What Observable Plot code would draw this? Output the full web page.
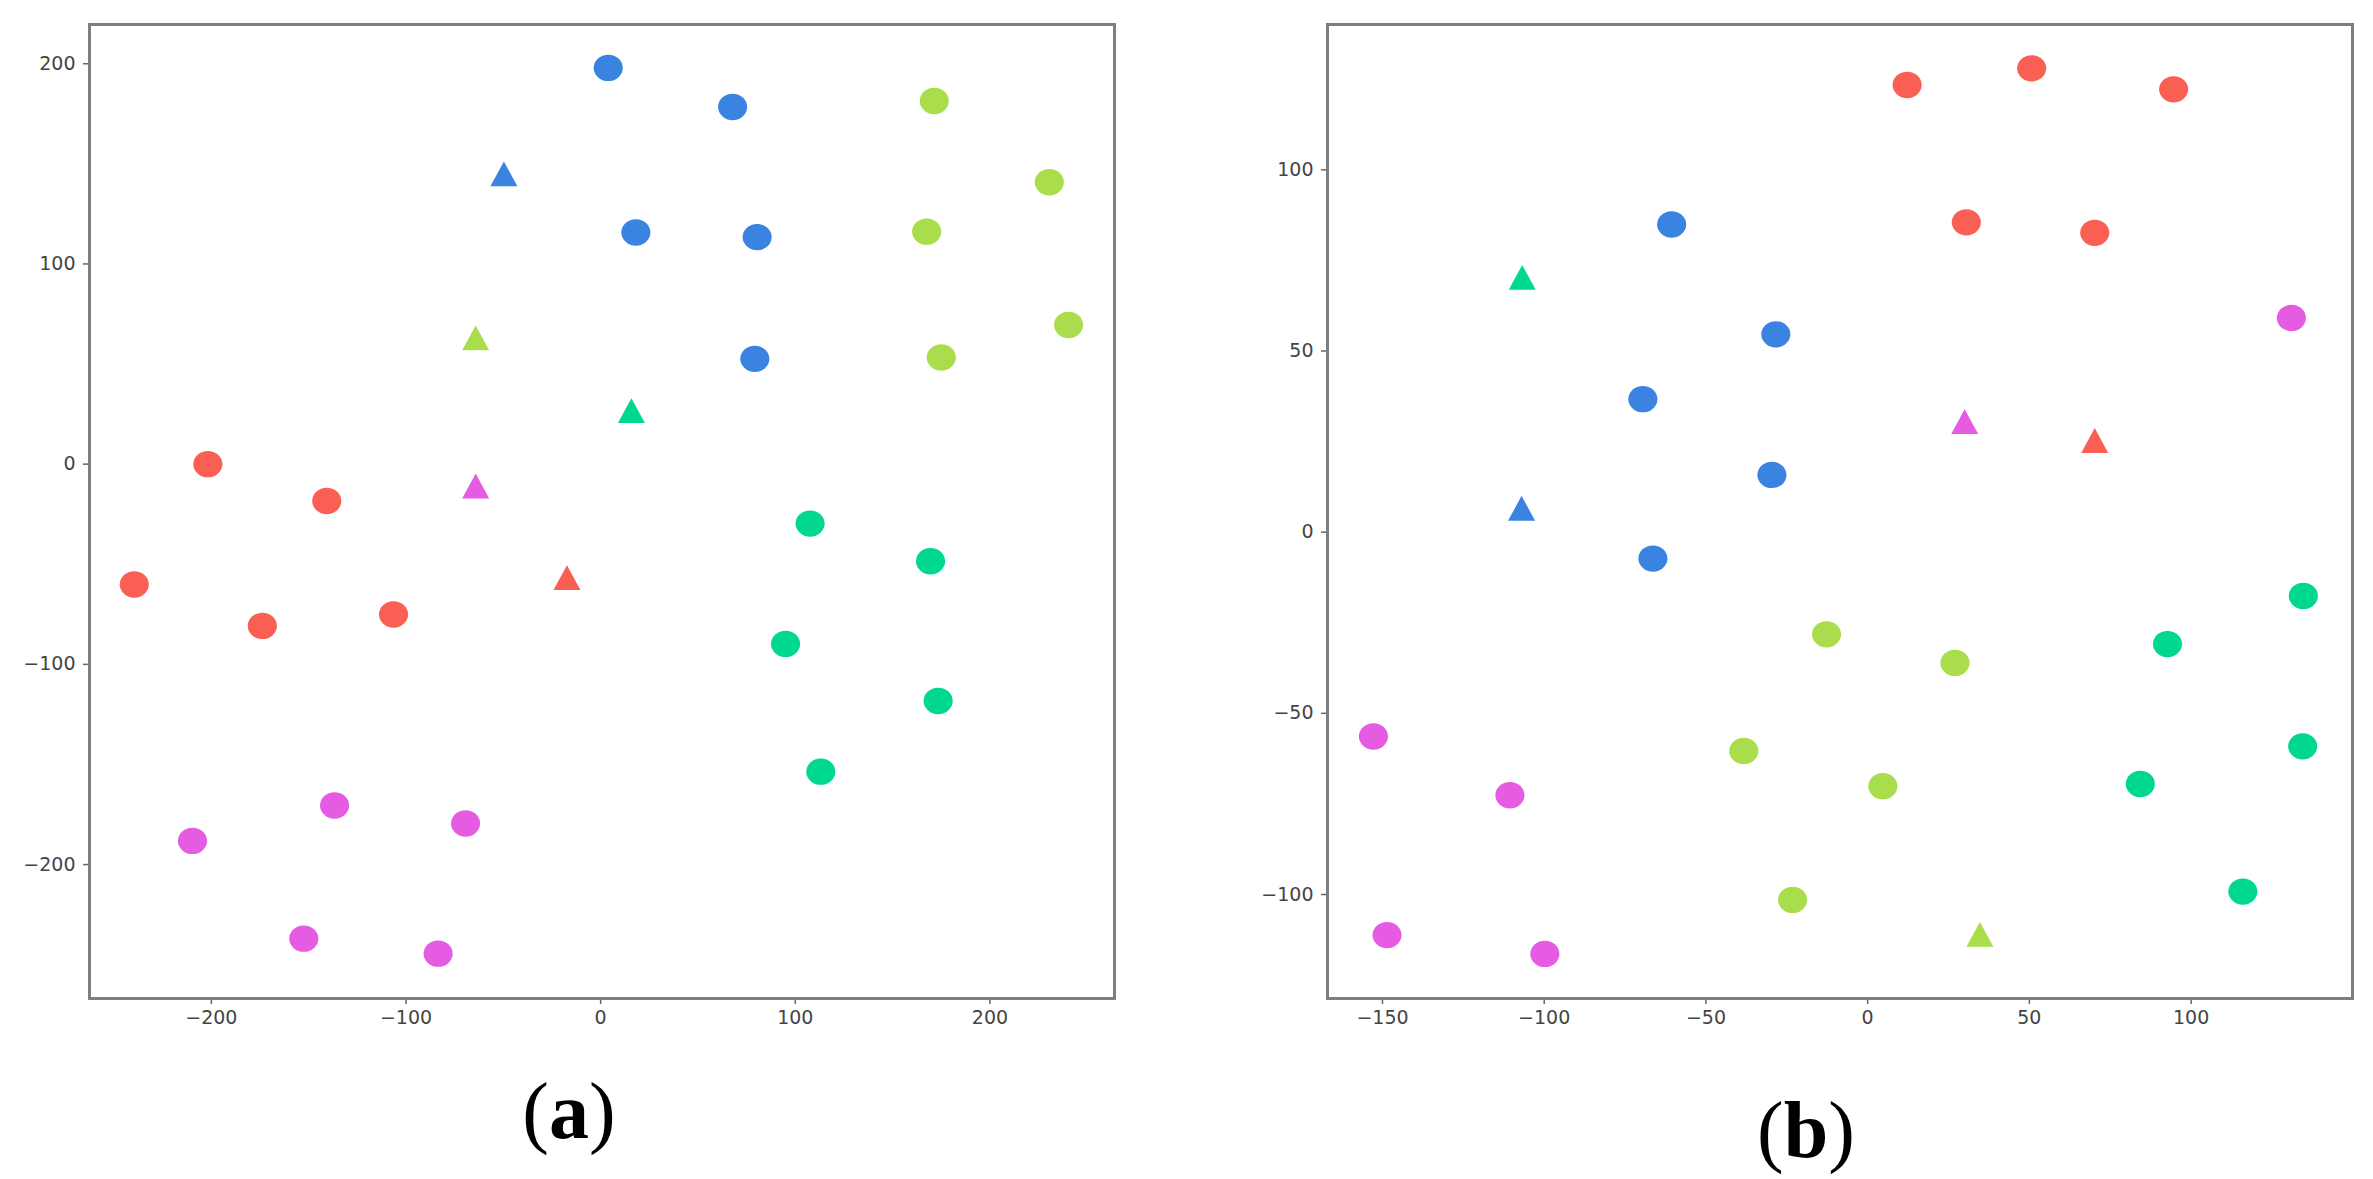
<!DOCTYPE html>
<html>
<head>
<meta charset="utf-8">
<script src="https://cdn.jsdelivr.net/npm/d3@7"></script>
<script src="https://cdn.jsdelivr.net/npm/@observablehq/plot@0.6"></script>
<style>
  html, body { margin: 0; padding: 0; background: #fff; }
  #page { position: relative; width: 2373px; height: 1179px; overflow: hidden; }
  .panel { position: absolute; top: 0; }
  .lab { position: absolute; font-family: "Liberation Serif", "DejaVu Serif", serif; font-size: 80px; line-height: 80px; color: #000; transform: translateX(-50%); white-space: nowrap; }
  .lab b { font-weight: bold; }
</style>
</head>
<body>
<div id="page">
  <div id="pa" class="panel" style="left:0px"></div>
  <div id="pb" class="panel" style="left:1240px"></div>
  <div class="lab" style="left:569px; top:1071px">(<b>a</b>)</div>
  <div class="lab" style="left:1806px; top:1090px">(<b>b</b>)</div>
</div>
<script>
// ---------- categories ----------
const classes = ["c1", "c2", "c3", "c4", "c5"];
const classColors = ["#3a83e0", "#aadd4b", "#00d88e", "#f95f52", "#e55be2"];

// ---------- panel (a) ----------
const aX = [3.9, 67.8, 18.1, 80.4, 79.2, -49.7,
            171.4, 230.5, 167.5, 240.4, 175.0, -64.2,
            107.6, 169.5, 95.0, 173.4, 113.1, 15.8,
            -201.8, -140.7, -239.6, -173.8, -106.4, -17.3,
            -136.7, -209.7, -69.4, -152.5, -83.5, -64.2];
const aY = [197.9, 178.4, 115.7, 113.4, 52.6, 145.0,
            181.4, 140.8, 116.1, 69.5, 53.3, 63.1,
            -29.7, -48.5, -89.8, -118.3, -153.6, 26.7,
            0.0, -18.4, -60.1, -80.8, -75.1, -56.7,
            -170.5, -188.2, -179.5, -237.0, -244.5, -10.9];
const aClass = ["c1","c1","c1","c1","c1","c1",
                "c2","c2","c2","c2","c2","c2",
                "c3","c3","c3","c3","c3","c3",
                "c4","c4","c4","c4","c4","c4",
                "c5","c5","c5","c5","c5","c5"];
const aShape = ["circle","circle","circle","circle","circle","triangle",
                "circle","circle","circle","circle","circle","triangle",
                "circle","circle","circle","circle","circle","triangle",
                "circle","circle","circle","circle","circle","triangle",
                "circle","circle","circle","circle","circle","triangle"];
const aXTicks = [-200, -100, 0, 100, 200];
const aYTicks = [-200, -100, 0, 100, 200];
const aXDomain = [-262.6, 264.0];
const aYDomain = [-266.9, 219.6];

// ---------- panel (b) ----------
const bX = [12.2, 50.7, 94.6, 30.5, 70.2, 70.2,
            -60.6, -28.4, -69.5, -29.6, -66.4, -107.0,
            134.7, 92.7, 134.5, 84.3, 116.0, -106.8,
            -12.7, 27.0, -38.3, 4.7, -23.2, 34.7,
            131.0, -152.8, -110.6, -148.6, -99.8, 30.0];
const bY = [123.4, 128.0, 122.2, 85.5, 82.6, 25.3,
            84.9, 54.6, 36.7, 15.8, -7.3, 6.6,
            -17.6, -30.9, -59.1, -69.5, -99.2, 70.3,
            -28.2, -36.1, -60.4, -70.1, -101.5, -111.0,
            59.1, -56.4, -72.6, -111.2, -116.4, 30.5];
const bClass = ["c4","c4","c4","c4","c4","c4",
                "c1","c1","c1","c1","c1","c1",
                "c3","c3","c3","c3","c3","c3",
                "c2","c2","c2","c2","c2","c2",
                "c5","c5","c5","c5","c5","c5"];
const bShape = ["circle","circle","circle","circle","circle","triangle",
                "circle","circle","circle","circle","circle","triangle",
                "circle","circle","circle","circle","circle","triangle",
                "circle","circle","circle","circle","circle","triangle",
                "circle","circle","circle","circle","circle","triangle"];
const bXTicks = [-150, -100, -50, 0, 50, 100];
const bYTicks = [-100, -50, 0, 50, 100];
const bXDomain = [-167.0, 149.9];
const bYDomain = [-128.7, 140.1];

// ---------- custom marker shapes (slightly wide ellipse, upward triangle) ----------
const K = 0.5522847;
const ellipseSymbol = {
  draw(ctx, size) {
    const r = Math.sqrt(size / Math.PI);
    const rx = r * 1.04, ry = r * 0.94;
    ctx.moveTo(rx, 0);
    ctx.bezierCurveTo(rx, ry * K, rx * K, ry, 0, ry);
    ctx.bezierCurveTo(-rx * K, ry, -rx, ry * K, -rx, 0);
    ctx.bezierCurveTo(-rx, -ry * K, -rx * K, -ry, 0, -ry);
    ctx.bezierCurveTo(rx * K, -ry, rx, -ry * K, rx, 0);
    ctx.closePath();
  }
};
const triangleSymbol = {
  draw(ctx, size) {
    const r = Math.sqrt(size / Math.PI);
    const w = r * 1.0, h = r * 0.92;
    ctx.moveTo(0, -h);
    ctx.lineTo(w, h);
    ctx.lineTo(-w, h);
    ctx.closePath();
  }
};

function rows(X, Y, C, S) {
  return X.map((x, i) => ({x, y: Y[i], c: C[i], s: S[i]}));
}

function panel(data, xDomain, yDomain, xTicks, yTicks, m) {
  const axisColor = "#444";
  return Plot.plot({
    width: m.width,
    height: m.height,
    marginLeft: m.left,
    marginRight: m.right,
    marginTop: m.top,
    marginBottom: m.bottom,
    style: {fontFamily: "DejaVu Sans", fontSize: "19px", color: axisColor, background: "#fff"},
    x: {domain: xDomain, ticks: xTicks},
    y: {domain: yDomain, ticks: yTicks},
    color: {domain: classes, range: classColors},
    marks: [
      Plot.dot(data.filter(d => d.s === "circle"), {
        x: "x", y: "y", fill: "c", r: 14, symbol: ellipseSymbol, stroke: "none"
      }),
      Plot.dot(data.filter(d => d.s === "triangle"), {
        x: "x", y: "y", fill: "c", r: 13.5, symbol: triangleSymbol, stroke: "none"
      }),
      Plot.axisX({ticks: xTicks, tickSize: 6, tickPadding: 6, label: null, stroke: "#666", strokeWidth: 1.5}),
      Plot.axisY({ticks: yTicks, tickSize: 6, tickPadding: 8, label: null, stroke: "#666", strokeWidth: 1.5}),
      Plot.frame({stroke: "#7f7f7f", strokeWidth: 3})
    ]
  });
}

const dataA = rows(aX, aY, aClass, aShape);
const dataB = rows(bX, bY, bClass, bShape);

document.getElementById("pa").append(
  panel(dataA, aXDomain, aYDomain, aXTicks, aYTicks,
        {width: 1150, height: 1040, left: 89, right: 36, top: 24, bottom: 42})
);
document.getElementById("pb").append(
  panel(dataB, bXDomain, bYDomain, bXTicks, bYTicks,
        {width: 1133, height: 1040, left: 87, right: 21, top: 24, bottom: 42})
);
</script>
</body>
</html>
